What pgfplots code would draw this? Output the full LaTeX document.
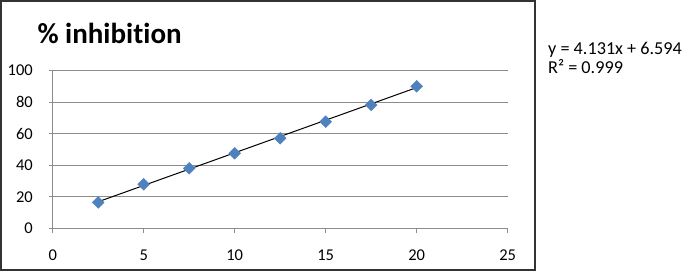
\documentclass[border=0pt]{standalone}
\usepackage{pgfplots}
\pgfplotsset{compat=1.18}
\usepackage{fontspec}
\setmainfont{Carlito}[Ligatures=NoCommon]
\definecolor{exblue}{HTML}{4F81BD}
\definecolor{gridgray}{HTML}{8C8C8C}
\begin{document}
\begin{tikzpicture}
\useasboundingbox (0,0) rectangle (685bp,271bp);
\draw[line width=1.6bp, black!80] (1bp,1bp) rectangle (535bp,270bp);
\begin{axis}[
  at={(52.7bp,42.5bp)}, anchor=south west,
  scale only axis, width=455bp, height=158bp,
  xmin=0, xmax=25, ymin=0, ymax=100,
  xtick={0,5,10,15,20,25}, ytick={0,20,40,60,80,100},
  axis x line*=bottom, axis y line*=left,
  axis line style={gridgray, line width=1bp, -},
  ymajorgrids, major grid style={gridgray, line width=1bp},
  tick align=outside, major tick length=4bp,
  tick style={gridgray, line width=1bp},
  /pgf/number format/assume math mode=true,
  ticklabel style={font=\fontsize{16.5bp}{19bp}\selectfont, inner sep=0pt},
  yticklabel style={anchor=east, xshift=-15.7bp},
  xticklabel style={anchor=north, yshift=-17.5bp},
  clip=false,
]
\addplot[only marks, mark=square*, mark size=4.2bp, color=exblue,
  mark options={rotate=45, fill=exblue, draw=exblue}]
  coordinates {(2.5,16.5) (5,28.0) (7.5,38.1) (10,47.6) (12.5,57.1) (15,67.6) (17.5,78.2) (20,90.0)};
\addplot[black, line width=1bp, no marks] coordinates {(2.5,16.92) (20,89.21)};
\end{axis}
\node[anchor=base west, inner sep=0pt, font=\fontsize{29bp}{34bp}\selectfont\bfseries] at (37.3bp,227.7bp) {\% inhibition};
\node[anchor=base west, inner sep=0pt, font=\fontsize{18.2bp}{22bp}\selectfont] at (548bp,216bp) {y = 4.131x + 6.594};
\node[anchor=base west, inner sep=0pt, font=\fontsize{18.2bp}{22bp}\selectfont] at (548bp,197.7bp) {R² = 0.999};
\end{tikzpicture}
\end{document}
